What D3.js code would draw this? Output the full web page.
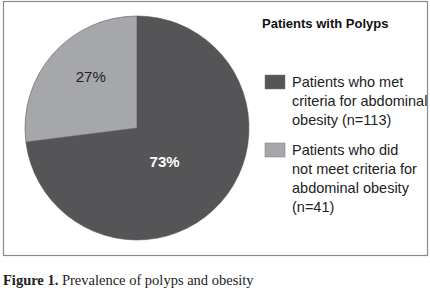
<!DOCTYPE html>
<html>
<head>
<meta charset="utf-8">
<script src="https://cdn.jsdelivr.net/npm/d3@7"></script>
<style>
  body { margin: 0; background: #fff; }
</style>
</head>
<body>
<svg id="chart" width="430" height="293"></svg>
<script>
// data
const categories = ["met", "notMet"];
const percents = [73, 27];
const legendLines = [
  ["Patients who met", "criteria for abdominal", "obesity (n=113)"],
  ["Patients who did", "not meet criteria for", "abdominal obesity", "(n=41)"]
];
const colors = ["#555557", "#a6a7aa"];
const legendTitle = "Patients with Polyps";

const svg = d3.select("#chart");

// outer frame
svg.append("rect")
  .attr("x", 3.5).attr("y", 1.5)
  .attr("width", 424).attr("height", 254)
  .attr("fill", "#fff")
  .attr("stroke", "#8a8a8a")
  .attr("stroke-width", 1.2);

const cx = 137, cy = 128, r = 112;

const pie = d3.pie().sort(null).value(d => d);
const arc = d3.arc().innerRadius(0).outerRadius(r);
const arcs = pie(percents);

const g = svg.append("g").attr("transform", `translate(${cx},${cy})`);

g.selectAll("path")
  .data(arcs)
  .enter()
  .append("path")
  .attr("d", arc)
  .attr("fill", (d, i) => colors[i])
  .attr("stroke", "#555")
  .attr("stroke-width", 0.6);

// slice labels, placed along each slice's mid angle
const labelR = [0.4, 0.61];
const nudge = [[-6, 4], [5, -6]];
g.selectAll("text.lbl")
  .data(arcs)
  .enter()
  .append("text")
  .attr("class", "lbl")
  .attr("transform", (d, i) => {
    const c = d3.arc().innerRadius(r * labelR[i]).outerRadius(r * labelR[i]).centroid(d);
    return `translate(${c[0] + nudge[i][0]},${c[1] + nudge[i][1]})`;
  })
  .attr("text-anchor", "middle")
  .attr("dominant-baseline", "central")
  .attr("font-family", "Liberation Sans, Arial, sans-serif")
  .attr("font-size", 15)
  .attr("font-weight", (d, i) => i === 0 ? "bold" : "normal")
  .attr("fill", (d, i) => i === 0 ? "#fff" : "#222")
  .text(d => d.data + "%");

// legend title
svg.append("text")
  .attr("x", 262).attr("y", 23.5)
  .attr("dominant-baseline", "central")
  .attr("font-family", "Liberation Sans, Arial, sans-serif")
  .attr("font-size", 13)
  .attr("font-weight", "bold")
  .attr("fill", "#111")
  .text(legendTitle);

// legend items
const legendTop = [82, 150];
const lineH = 19;
const leg = svg.append("g");
categories.forEach((c, i) => {
  leg.append("rect")
    .attr("x", 265).attr("y", legendTop[i] - 7)
    .attr("width", 20).attr("height", 14)
    .attr("fill", colors[i])
    .attr("stroke", "#777")
    .attr("stroke-width", 0.5);
  const t = leg.append("text")
    .attr("font-family", "Liberation Sans, Arial, sans-serif")
    .attr("font-size", 14.5)
    .attr("fill", "#222");
  legendLines[i].forEach((ln, j) => {
    t.append("tspan")
      .attr("x", 292)
      .attr("y", legendTop[i] + j * lineH)
      .attr("dominant-baseline", "central")
      .text(ln);
  });
});

// caption
const cap = svg.append("text")
  .attr("x", 3).attr("y", 285)
  .attr("font-family", "Liberation Serif, Times New Roman, serif")
  .attr("font-size", 14.5)
  .attr("fill", "#222");
cap.append("tspan").attr("font-weight", "bold").text("Figure 1.");
cap.append("tspan").text(" Prevalence of polyps and obesity");
</script>
</body>
</html>
